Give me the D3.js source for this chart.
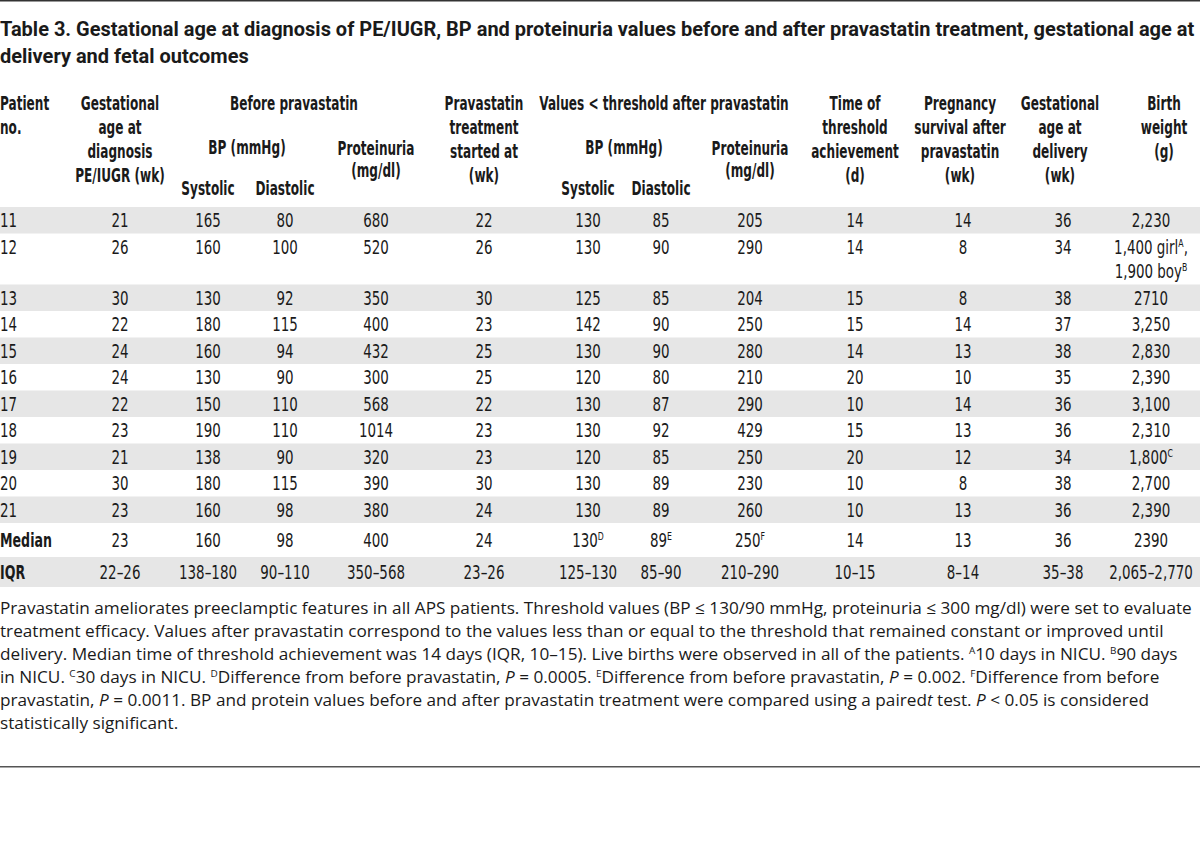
<!DOCTYPE html>
<html><head><meta charset="utf-8">
<script src="https://cdn.jsdelivr.net/npm/d3@7"></script>
<style>
html,body{margin:0;padding:0;background:#fff;}
svg{display:block;}
text{white-space:pre;}
</style></head>
<body>
<svg id="chart" width="1200" height="843"></svg>
<script>
// ---------------- DATA ----------------
const patientNo         = ["11","12","13","14","15","16","17","18","19","20","21"];
const gestAgeDiagnosis  = [21,26,30,22,24,24,22,23,21,30,23];
const systolicBefore    = [165,160,130,180,160,130,150,190,138,180,160];
const diastolicBefore   = [80,100,92,115,94,90,110,110,90,115,98];
const proteinuriaBefore = [680,520,350,400,432,300,568,1014,320,390,380];
const pravastatinStart  = [22,26,30,23,25,25,22,23,23,30,24];
const systolicAfter     = [130,130,125,142,130,120,130,130,120,130,130];
const diastolicAfter    = [85,90,85,90,90,80,87,92,85,89,89];
const proteinuriaAfter  = [205,290,204,250,280,210,290,429,250,230,260];
const thresholdDays     = [14,14,15,15,14,20,10,15,20,10,10];
const survivalWeeks     = [14,8,8,14,13,10,14,13,12,8,13];
const gestAgeDelivery   = [36,34,38,37,38,35,36,36,34,38,36];
const birthWeight       = ["2,230","1,400 girl^A,|1,900 boy^B","2710","3,250","2,830","2,390","3,100","2,310","1,800^C","2,700","2,390"];
const medianRow = ["Median","23","160","98","400","24","130^D","89^E","250^F","14","13","36","2390"];
const iqrRow    = ["IQR","22–26","138–180","90–110","350–568","23–26","125–130","85–90","210–290","10–15","8–14","35–38","2,065–2,770"];

const titleLines = [
  "Table 3. Gestational age at diagnosis of PE/IUGR, BP and proteinuria values before and after pravastatin treatment, gestational age at",
  "delivery and fetal outcomes"
];
const footLines = [
  "Pravastatin ameliorates preeclamptic features in all APS patients. Threshold values (BP ≤ 130/90 mmHg, proteinuria ≤ 300 mg/dl) were set to evaluate",
  "treatment efficacy. Values after pravastatin correspond to the values less than or equal to the threshold that remained constant or improved until",
  "delivery. Median time of threshold achievement was 14 days (IQR, 10–15). Live births were observed in all of the patients. ^A10 days in NICU. ^B90 days",
  "in NICU. ^C30 days in NICU. ^DDifference from before pravastatin, *P* = 0.0005. ^EDifference from before pravastatin, *P* = 0.002. ^FDifference from before",
  "pravastatin, *P* = 0.0011. BP and protein values before and after pravastatin treatment were compared using a paired*t* test. *P* < 0.05 is considered",
  "statistically significant."
];

const headerCells = [
  {lines:["Patient","no."], col:"no", slot:"std"},
  {lines:["Gestational","age at","diagnosis","PE/IUGR (wk)"], col:"gad", slot:"std"},
  {lines:["Before pravastatin"], col:"before", slot:"std"},
  {lines:["BP (mmHg)"], col:"bpB", slot:"bp"},
  {lines:["Systolic"], col:"sysB", slot:"sub"},
  {lines:["Diastolic"], col:"diaB", slot:"sub"},
  {lines:["Proteinuria","(mg/dl)"], col:"protB", slot:"prot"},
  {lines:["Pravastatin","treatment","started at","(wk)"], col:"start", slot:"std"},
  {lines:["Values < threshold after pravastatin"], col:"after", slot:"std"},
  {lines:["BP (mmHg)"], col:"bpA", slot:"bp"},
  {lines:["Systolic"], col:"sysA", slot:"sub"},
  {lines:["Diastolic"], col:"diaA", slot:"sub"},
  {lines:["Proteinuria","(mg/dl)"], col:"protA", slot:"prot"},
  {lines:["Time of","threshold","achievement","(d)"], col:"time", slot:"std"},
  {lines:["Pregnancy","survival after","pravastatin","(wk)"], col:"surv", slot:"std"},
  {lines:["Gestational","age at","delivery","(wk)"], col:"gdel", slot:"std"},
  {lines:["Birth","weight","(g)"], col:"bw", slot:"std"}
];

// ---------------- LAYOUT ----------------
const svg = d3.select("#chart");
const W = 1200;
const ink = "#1a1a1a";
const band = "#e6e6e6";
const condFamily = "'Liberation Sans Narrow','DejaVu Sans Condensed','Arial Narrow',Roboto,sans-serif";
const titleFamily = "Roboto,'Open Sans',sans-serif";
const footFamily = "'Open Sans','Noto Sans',sans-serif";

const dataKeys = ["no","gad","sysB","diaB","protB","start","sysA","diaA","protA","time","surv","gdel","bw"];
const xCol = d3.scaleOrdinal()
  .domain(["no","gad","sysB","diaB","protB","start","sysA","diaA","protA","time","surv","gdel","bw",
           "before","bpB","after","bpA","bwH","survH","gdelH"])
  .range([0,120,208,285,376,484,588,661,750,855,963,1063,1151,
          294,247,664,624,1164,960,1060]);
const headerX = k => k==="bw" ? xCol("bwH") : k==="surv" ? xCol("survH") : k==="gdel" ? xCol("gdelH") : xCol(k);

const hLine = d3.scaleLinear().domain([0,1]).range([110,134]);
const slotY = {std: i=>hLine(i), bp: i=>154, sub: i=>195, prot: i=>hLine(2)-3+i*22};

const rows = patientNo.map((p,i)=>({
  cells:[p,String(gestAgeDiagnosis[i]),String(systolicBefore[i]),String(diastolicBefore[i]),
         String(proteinuriaBefore[i]),String(pravastatinStart[i]),String(systolicAfter[i]),
         String(diastolicAfter[i]),String(proteinuriaAfter[i]),String(thresholdDays[i]),
         String(survivalWeeks[i]),String(gestAgeDelivery[i]),birthWeight[i]],
  h: birthWeight[i].includes("|") ? 51 : 26.5, summary:false
}));
rows.push({cells:medianRow, h:34, summary:true});
rows.push({cells:iqrRow, h:30, summary:true});
const tops = d3.cumsum([0].concat(rows.map(r=>r.h)));
const yRow = d3.scaleLinear().domain([0,1]).range([207,208]);
rows.forEach((r,i)=>{ r.y0 = yRow(tops[i]); r.idx=i; });

function rich(sel, str, fs, lineGap) {
  const lines = str.split("|");
  lines.forEach((ln, li) => {
    const parts = ln.split(/(\^[A-Z]|\*[^*]+\*)/).filter(s=>s.length);
    let shift = 0;
    parts.forEach((p, pi) => {
      const ts = sel.append("tspan");
      let dy = 0;
      if (li>0 && pi===0) { ts.attr("x", 0); dy += lineGap - shift; shift = 0; }
      if (p[0]==="^") {
        const up = fs*0.36;
        dy += -up - shift; shift = -up;
        ts.attr("font-size", fs*0.58).text(p.slice(1));
      } else {
        if (shift) { dy += -shift; shift = 0; }
        if (p[0]==="*") ts.attr("font-style","italic").text(p.slice(1,-1));
        else ts.text(p);
      }
      if (dy) ts.attr("dy", dy);
    });
  });
}

// place text at (px,py) and compress horizontally with factor k via transform
function place(sel, px, py) {
  sel.attr("x",0).attr("y",0).attr("transform",d=>`translate(${px(d)},${py(d)})`);
}
function squeeze(sel, px, py, k) {
  sel.attr("transform",d=>`translate(${px(d)},${py(d)}) scale(${k},1)`);
}

// top rule
svg.append("rect").attr("x",0).attr("y",0).attr("width",W).attr("height",1.5).attr("fill","#333");

// title
const tFs = 19.5;
const titleT = svg.append("g").selectAll("text").data(titleLines).join("text")
  .attr("font-family",titleFamily).attr("font-weight",700).attr("font-size",tFs).attr("fill",ink)
  .text(d=>d);
const tX = d=>0, tY = (d,i)=>36+titleLines.indexOf(d)*27;
place(titleT, tX, tY);
squeeze(titleT, tX, tY, 1195/titleT.node().getComputedTextLength());

// row bands
svg.append("g").selectAll("rect").data(rows.filter(r=>r.idx%2===0)).join("rect")
  .attr("x",0).attr("width",W).attr("y",r=>r.y0).attr("height",r=>r.h).attr("fill",band);

// header
const hFs = 19.5;
const headItems = [];
headerCells.forEach(c=>c.lines.forEach((t,i)=>headItems.push({t, col:c.col, y:slotY[c.slot](i)})));
const headT = svg.append("g").attr("font-family",condFamily).attr("font-weight",700)
  .attr("font-size",hFs).attr("fill",ink)
  .selectAll("text").data(headItems).join("text")
  .attr("text-anchor",d=>d.col==="no"?"start":"middle")
  .text(d=>d.t);
const hx = d=>headerX(d.col), hy = d=>d.y;
place(headT, hx, hy);
const kHead = 128 / headT.filter(d=>d.t==="Before pravastatin").node().getComputedTextLength();
squeeze(headT, hx, hy, kHead);

// body cells
const dFs = 19;
const cellItems = [];
rows.forEach(r=>r.cells.forEach((c,j)=>cellItems.push({
  t:c, key:dataKeys[j], bold: r.summary && j===0,
  y: r.summary ? r.y0 + r.h/2 + 7 : r.y0 + 13.25 + 7
})));
const bodyG = svg.append("g").attr("font-family",condFamily).attr("font-size",dFs).attr("fill",ink);
const cellT = bodyG.selectAll("text").data(cellItems).join("text")
  .attr("text-anchor",d=>d.key==="no"?"start":"middle")
  .attr("font-weight",d=>d.bold?700:400)
  .each(function(d){ rich(d3.select(this), d.t, dFs, 24); });
const cx = d=>xCol(d.key), cy = d=>d.y;
place(cellT, cx, cy);
const plain = cellT.filter(d=>!d.bold), boldC = cellT.filter(d=>d.bold);
squeeze(plain, cx, cy, 58 / cellT.filter(d=>d.t==="138–180").node().getComputedTextLength());
squeeze(boldC, cx, cy, 52 / boldC.filter(d=>d.t==="Median").node().getComputedTextLength());

// footnote
const fFs = 17;
const footT = svg.append("g").attr("font-family",footFamily).attr("font-size",fFs).attr("fill",ink)
  .selectAll("text").data(footLines).join("text")
  .each(function(d){ rich(d3.select(this), d, fFs, 0); });
const fx = d=>0, fy = d=>614+footLines.indexOf(d)*23;
place(footT, fx, fy);
squeeze(footT, fx, fy, 1193 / footT.node().getComputedTextLength());

// bottom rule
svg.append("rect").attr("x",0).attr("y",766).attr("width",W).attr("height",1.5).attr("fill","#555");
</script>
</body></html>
